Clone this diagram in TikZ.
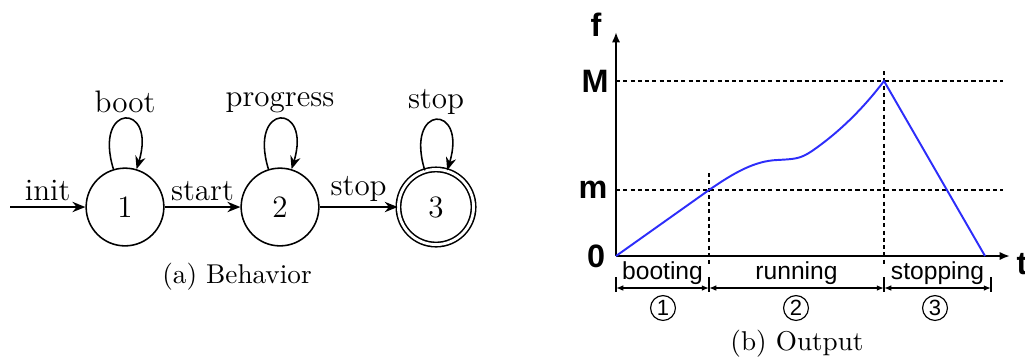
\documentclass[tikz,border=0pt]{standalone}
\usepackage{fontspec}
\newfontfamily\plotfont{Liberation Sans}
\usetikzlibrary{arrows.meta,positioning}
\definecolor{curveblue}{RGB}{45,45,250}

\begin{document}
\begin{tikzpicture}[
    x=0.386pt, y=-0.386pt,
    state/.style={draw,circle,line width=0.6pt,minimum size=30pt,inner sep=0pt,font=\fontsize{12}{14}\selectfont},
    accept/.style={state,double,double distance=1.1pt,minimum size=29pt},
    arr/.style={-{Stealth[length=5pt,width=4pt]},line width=0.6pt},
    selfloop/.style={loop,out=107,in=73,min distance=9.5mm},
    lbl/.style={font=\fontsize{12}{14}\selectfont,inner sep=2pt},
    caption/.style={font=\fontsize{10.5}{12}\selectfont},
    axis/.style={-{Latex[length=4pt,width=3.2pt]},line width=0.8pt},
    guide/.style={line width=0.6pt,dash pattern=on 1.6pt off 1.2pt},
    curve/.style={curveblue,line width=0.75pt},
    dim/.style={{Latex[length=2.8pt,width=2.2pt]}-{Latex[length=2.8pt,width=2.2pt]},line width=0.55pt},
    tick/.style={line width=0.55pt},
    axlabel/.style={font=\plotfont\bfseries\fontsize{12.5}{14}\selectfont,inner sep=0pt},
    phase/.style={font=\plotfont\fontsize{9.5}{10}\selectfont,inner sep=0pt},
    num/.style={draw,circle,line width=0.45pt,minimum size=9.6pt,inner sep=0pt,font=\plotfont\fontsize{8.5}{9}\selectfont}
]
\useasboundingbox (0,0) rectangle (1025,361);

% (a) behavior
\coordinate (in) at (10,207);
\node[state] (s1) at (125,207) {1};
\node[state] (s2) at (280,207) {2};
\node[accept] (s3) at (436,207) {3};

\draw[arr] (in) -- node[lbl,above] {init} (s1);
\draw[arr] (s1) -- node[lbl,above] {start} (s2);
\draw[arr] (s2) -- node[lbl,above] {stop} (s3);
\draw[arr] (s1) edge[selfloop] node[lbl,above] {boot} (s1);
\draw[arr] (s2) edge[selfloop] node[lbl,above] {progress} (s2);
\draw[arr] (s3) edge[selfloop] node[lbl,above] {stop} (s3);

\node[caption] (capa) at (237,277) {(a) Behavior};

% (b) output
\coordinate (O) at (616,256);
\coordinate (ftop) at (616,32);
\coordinate (tend) at (1010,256);
\draw[axis] (O) -- (ftop);
\draw[axis] (O) -- (tend);

\node[axlabel] (lf) at (596,25) {f};
\node[axlabel] (lM) at (595,81) {M};
\node[axlabel] (lm) at (593,190) {m};
\node[axlabel] (l0) at (596,256) {0};
\node[axlabel] (lt) at (1022,264) {t};

\draw[guide] (616,81) -- (1003,81);
\draw[guide] (616,190) -- (1003,190);
\draw[guide] (709,173) -- (709,267);
\draw[guide] (884,71) -- (884,266);

\draw[curve] (O) -- (709,190)
    .. controls (735,172) and (755,161) .. (777,160)
    .. controls (795,159) and (800,159) .. (812,151)
    .. controls (838,133) and (862,110) .. (884,81)
    -- (985,256);

% phases
\coordinate (p0) at (616,288);
\coordinate (p1) at (709,288);
\coordinate (p2) at (884,288);
\coordinate (p3) at (991,288);
\foreach \p in {p0,p1,p2,p3}
  \draw[tick] ([yshift=11*0.386pt]\p) -- ([yshift=-4*0.386pt]\p);
\draw[dim] (p0) -- node[phase,above=1pt] {booting} (p1);
\draw[dim] (p1) -- node[phase,above=1pt] {running} (p2);
\draw[dim] (p2) -- node[phase,above=1pt] {stopping} (p3);

\node[num] (n1) at (663,308) {1};
\node[num] (n2) at (796,308) {2};
\node[num] (n3) at (935,308) {3};

\node[caption] (capb) at (797,344) {(b) Output};
\end{tikzpicture}
\end{document}
